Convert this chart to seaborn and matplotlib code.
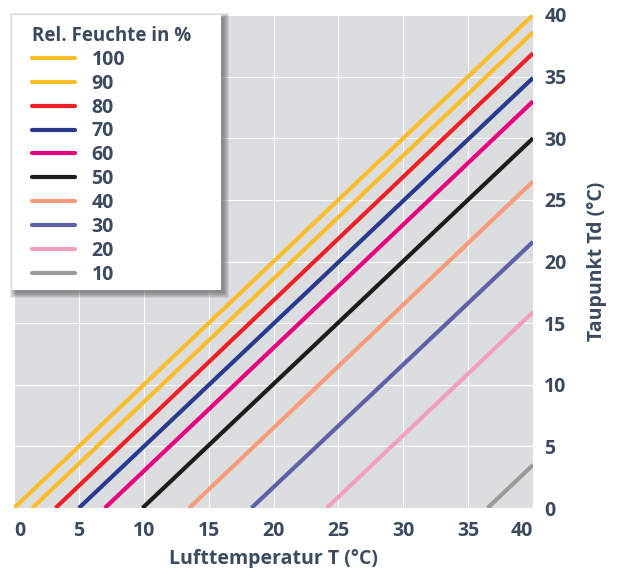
import numpy as np
import pandas as pd
import matplotlib.pyplot as plt
import matplotlib.transforms as mtransforms
from matplotlib.patches import Rectangle
import seaborn as sns

# 设置绘图风格
sns.set_style("darkgrid", {"axes.facecolor": "#dcdddf", "grid.color": "white"})
plt.rcParams['font.family'] = ['Open Sans', 'DejaVu Sans']
plt.rcParams['font.weight'] = 'bold'

# 数据: 相对湿度, 露点为0时的温度, 40°C时的露点
humidity = [100, 90, 80, 70, 60, 50, 40, 30, 20, 10]
t_at_zero = [0.0, 1.4, 3.2, 5.0, 7.0, 9.9, 13.5, 18.3, 24.1, 36.5]
td_at_40 = [40.0, 38.6, 36.9, 34.9, 33.0, 30.0, 26.5, 21.6, 15.9, 3.5]
colors = ['#f9bd2c', '#f9bd2c', '#ee2027', '#293a8f', '#e6007e',
          '#1d1d1b', '#f79b7b', '#5c62a8', '#f29ec1', '#9a9a9a']

text_color = '#3b4a5f'

rows = []
for h, t0, td in zip(humidity, t_at_zero, td_at_40):
    rows.append({'rh': str(h), 'T': t0, 'Td': 0.0})
    rows.append({'rh': str(h), 'T': 40.0, 'Td': td})
df = pd.DataFrame(rows)

fig = plt.figure(figsize=(6.18, 5.68), dpi=100)
ax = fig.add_axes([0.0227, 0.1056, 0.8398, 0.868])

sns.lineplot(data=df, x='T', y='Td', hue='rh', hue_order=[str(h) for h in humidity],
             palette=colors, linewidth=3, ax=ax, solid_capstyle='butt')

ax.set_xlim(0, 40)
ax.set_ylim(0, 40)
ax.set_xticks(range(0, 41, 5))
ax.set_yticks(range(0, 41, 5))
ax.yaxis.tick_right()
ax.yaxis.set_label_position('right')
ax.tick_params(axis='x', length=0, pad=9, labelsize=14, labelcolor=text_color)
ax.tick_params(axis='y', length=0, pad=8, labelsize=14, labelcolor=text_color)
for lab in ax.get_xticklabels() + ax.get_yticklabels():
    lab.set_fontweight('bold')
xl = ax.get_xticklabels()
xl[0].set_ha('left')
xl[-1].set_ha('right')
for s in ax.spines.values():
    s.set_visible(False)

ax.set_xlabel('Lufttemperatur T (°C)', fontsize=14, fontweight='bold',
              color=text_color, labelpad=6)
ax.set_ylabel('Taupunkt Td (°C)', fontsize=14, fontweight='bold',
              color=text_color, labelpad=15, rotation=90)

# 图例白框和阴影
bx, by, bw, bh = -0.004, 0.442, 0.403, 0.558
px = 1 / (ax.bbox.width)
py = 1 / (ax.bbox.height)
shift = mtransforms.ScaledTranslation(3 / 100, -3 / 100, fig.dpi_scale_trans)
for i in range(6, 0, -1):
    g = i - 1
    ax.add_patch(Rectangle((bx - g * px, by - g * py), bw + 2 * g * px, bh + 2 * g * py,
                           transform=ax.transAxes + shift, facecolor='#404040',
                           edgecolor='none', alpha=0.11, zorder=3, clip_on=False))
ax.add_patch(Rectangle((bx, by), bw, bh, transform=ax.transAxes, facecolor='white',
                       edgecolor='none', zorder=4, clip_on=False))

# 图例
handles, labels = ax.get_legend_handles_labels()
leg = ax.legend(handles, labels, title='Rel. Feuchte in %', loc='upper left',
                bbox_to_anchor=(0.0337, 0.978), borderaxespad=0, borderpad=0,
                fontsize=14, title_fontsize=13.5, handlelength=2.26,
                handletextpad=0.82, labelspacing=0.2, frameon=False,
                alignment='left')
leg.set_zorder(6)
leg.get_title().set_color(text_color)
leg.get_title().set_fontweight('bold')
for t in leg.get_texts():
    t.set_color(text_color)
    t.set_fontweight('bold')
for l in leg.get_lines():
    l.set_linewidth(3)
    l.set_solid_capstyle('round')

plt.savefig('out.png', dpi=100)
